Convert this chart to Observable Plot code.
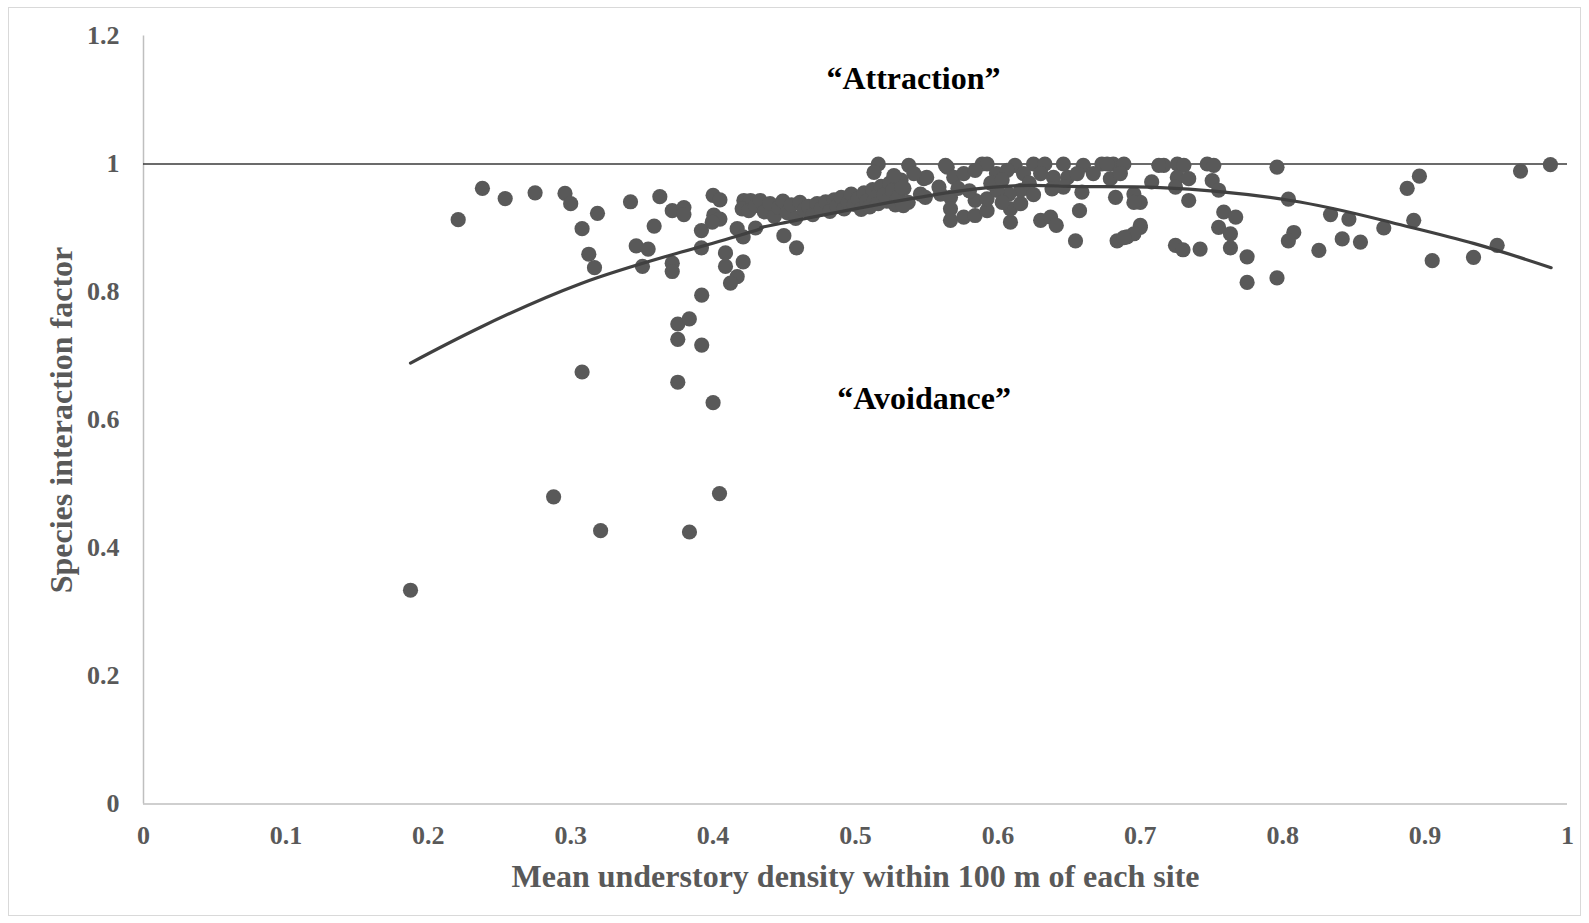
<!DOCTYPE html>
<html><head><meta charset="utf-8">
<script src="https://cdn.jsdelivr.net/npm/d3@7"></script>
<script src="https://cdn.jsdelivr.net/npm/@observablehq/plot@0.6"></script>
<style>
body{margin:0;background:#fff;}
#wrap{position:relative;width:1589px;height:923px;}
#border{position:absolute;left:8px;top:7px;width:1573px;height:909px;border:1px solid #d9d9d9;box-sizing:border-box;}
#chart{position:absolute;left:0;top:0;}
</style></head><body><div id="wrap"><div id="border"></div><div id="chart"></div></div>
<script>
// Mean understory density (x) and species interaction factor (y)
const densityX = [
0.1875,0.221,0.238,0.254,0.275,0.288,0.296,0.300,0.308,0.308,0.3127,0.3167,0.3188,0.321,0.342,0.346,0.3504,0.3544,0.3586,0.3626,
0.3713,0.3795,0.3795,0.3713,0.3713,0.3752,0.3833,0.3752,0.3752,0.3834,0.392,0.392,0.3918,0.3918,0.400,0.4048,0.4005,0.4048,0.3994,0.400,
0.4045,0.4087,0.4087,0.4211,0.4169,0.4122,0.4169,0.4211,0.4497,0.4586,0.4298,
0.4216,0.4263,0.4204,0.4251,0.4298,
0.433,0.436,0.440,0.443,0.446,0.449,0.452,0.455,0.458,0.461,0.464,0.467,0.470,0.473,0.476,0.479,0.482,0.485,0.487,0.490,
0.492,0.495,0.497,0.499,0.502,0.504,0.506,0.508,0.510,0.512,0.514,0.516,0.518,0.520,0.522,0.524,0.526,0.528,0.530,0.532,0.534,0.537,
0.516,0.513,0.5374,0.5324,0.548,0.5597,0.5336,0.5644,0.5456,0.550,0.5586,0.549,0.541,0.527,
0.5632,0.589,0.5924,0.612,0.625,0.633,0.646,0.660,0.673,0.681,
0.569,0.576,0.584,0.599,0.6065,0.618,0.630,0.639,0.649,0.6557,0.667,0.679,
0.638,0.646,0.659,0.6826,0.6573,
0.5667,0.5667,0.5667,0.576,0.584,0.5924,0.584,0.5924,
0.6088,0.6088,0.616,0.616,0.6077,0.630,0.637,0.641,0.6545,0.6837,0.5995,0.6907,0.700,
0.572,0.580,0.595,0.603,0.622,0.625,0.603,
0.6767,0.6885,0.7165,0.726,0.7306,0.747,0.7516,0.796,
0.686,0.708,0.726,0.734,0.7505,0.7247,0.755,
0.6955,0.700,0.6955,0.734,0.804,
0.7586,0.767,0.700,0.6955,0.6885,0.755,0.7633,0.7633,
0.7247,0.730,0.742,0.775,0.775,0.796,0.8078,0.804,
0.8336,0.8465,0.871,0.892,0.8874,0.896,0.8418,0.8546,0.8254,0.905,0.934,0.9506,0.967,0.988,0.713
];
const interactionY = [
0.334,0.913,0.962,0.946,0.955,0.480,0.954,0.938,0.899,0.675,0.859,0.838,0.923,0.427,0.941,0.872,0.840,0.867,0.903,0.949,
0.927,0.932,0.921,0.845,0.832,0.750,0.758,0.726,0.659,0.425,0.717,0.795,0.896,0.869,0.951,0.944,0.920,0.914,0.909,0.627,
0.485,0.861,0.840,0.847,0.824,0.814,0.899,0.886,0.888,0.869,0.900,
0.943,0.943,0.930,0.927,0.935,
0.943,0.925,0.938,0.918,0.932,0.942,0.924,0.936,0.915,0.940,0.928,0.934,0.921,0.938,0.930,0.941,0.926,0.944,0.934,0.948,
0.930,0.940,0.953,0.937,0.946,0.929,0.955,0.942,0.933,0.960,0.948,0.938,0.965,0.952,0.942,0.970,0.958,0.936,0.948,0.975,0.962,0.940,
1.000,0.987,0.998,0.964,0.977,0.953,0.935,0.995,0.953,0.979,0.964,0.948,0.985,0.982,
0.998,1.000,1.000,0.998,1.000,1.000,1.000,0.998,1.000,1.000,
0.979,0.985,0.990,0.985,0.990,0.985,0.985,0.979,0.979,0.985,0.985,0.977,
0.961,0.964,0.956,0.948,0.927,
0.948,0.930,0.912,0.917,0.9195,0.927,0.943,0.9456,
0.909,0.930,0.938,0.959,0.953,0.912,0.917,0.904,0.880,0.880,0.9586,0.886,0.901,
0.962,0.958,0.970,0.975,0.970,0.952,0.940,
1.000,1.000,0.998,1.000,0.998,1.000,0.998,0.995,
0.985,0.972,0.979,0.977,0.974,0.964,0.959,
0.953,0.940,0.940,0.943,0.945,
0.925,0.917,0.904,0.891,0.885,0.901,0.891,0.869,
0.873,0.866,0.867,0.855,0.815,0.822,0.893,0.880,
0.921,0.914,0.900,0.912,0.962,0.981,0.883,0.878,0.865,0.849,0.854,0.873,0.989,0.999,0.998
];
// Fitted trend curve
const trendX = [0.1875,0.2367,0.3069,0.3771,0.4333,0.4473,0.5737,0.65,0.714,0.8055,0.8757,0.934,0.9885];
const trendY = [0.689,0.745,0.813,0.862,0.899,0.907,0.958,0.965,0.963,0.943,0.909,0.876,0.838];
// Axis ticks
const xTicks = [0,0.1,0.2,0.3,0.4,0.5,0.6,0.7,0.8,0.9,1];
const yTicks = [0,0.2,0.4,0.6,0.8,1,1.2];
// Annotations
const annText = ["\u201cAttraction\u201d","\u201cAvoidance\u201d"];
const annX = [0.5407,0.5482];
const annY = [1.1336,0.633];
const xTitle = "Mean understory density within 100 m of each site";
const yTitle = "Species interaction factor";

const points = densityX.map((x,i)=>({x, y: interactionY[i]}));
const trend = trendX.map((x,i)=>({x, y: trendY[i]}));
const ann = annText.map((t,i)=>({t, x: annX[i], y: annY[i]}));
const fmt = d => String(+d.toFixed(1));

const chart = Plot.plot({
  width:1589, height:923,
  marginLeft:143, marginRight:22, marginTop:35.5, marginBottom:119.5,
  style:{fontFamily:"'Liberation Serif','Times New Roman',serif", fontWeight:"bold", background:"transparent"},
  x:{domain:[0,1]},
  y:{domain:[0,1.2]},
  marks:[
    Plot.ruleX([0],{stroke:"#bfbfbf",strokeWidth:1.5}),
    Plot.ruleY([0],{stroke:"#bfbfbf",strokeWidth:1.5}),
    Plot.ruleY([1],{stroke:"#3a3a3a",strokeWidth:1.5}),
    Plot.axisX({ticks:xTicks, tickSize:0, tickPadding:22, fontSize:26, fill:"#595959", tickFormat:fmt, label:null}),
    Plot.axisY({ticks:yTicks, tickSize:0, tickPadding:24, fontSize:26, fill:"#595959", tickFormat:fmt, label:null}),
    Plot.dot(points,{x:"x",y:"y",r:7.6,fill:"#595959"}),
    Plot.line(trend,{x:"x",y:"y",curve:"natural",stroke:"#404040",strokeWidth:3.2}),
    Plot.text(ann,{x:"x",y:"y",text:"t",fontSize:32,fill:"#000"}),
    Plot.text([xTitle],{frameAnchor:"bottom",lineAnchor:"middle",textAnchor:"middle",dy:72.5,fontSize:32,fill:"#595959"}),
    Plot.text([yTitle],{frameAnchor:"left",lineAnchor:"middle",textAnchor:"middle",dx:-81.5,rotate:-90,fontSize:32,fill:"#595959"})
  ]
});
document.getElementById("chart").appendChild(chart);
</script></body></html>
